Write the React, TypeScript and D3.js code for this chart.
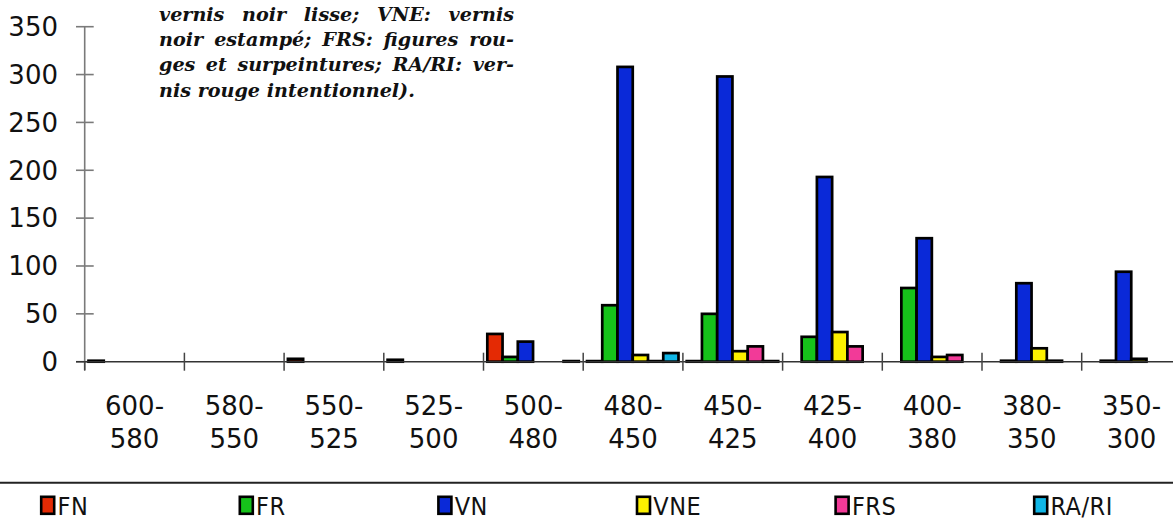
import React, { useLayoutEffect, useRef, useState } from "react";
import * as d3 from "d3";

const categories = ["600-580", "580-550", "550-525", "525-500", "500-480", "480-450", "450-425", "425-400", "400-380", "380-350", "350-300"];
const seriesNames = ["FN", "FR", "VN", "VNE", "FRS", "RA/RI"];
const seriesColors = ["#e42a04", "#16c21a", "#0a29d8", "#fcf000", "#f23a98", "#10b6e6"];
const FN = [1, null, 3, 2, 29, 0, 0, null, null, null, null];
const FR = [null, null, null, null, 5, 59, 50, 26, 77, 1, 1];
const VN = [null, null, null, null, 21, 308, 298, 193, 129, 82, 94];
const VNE = [null, null, null, null, null, 7, 11, 31, 5, 14, 3];
const FRS = [null, null, null, null, null, 0, 16, 16, 7, 1, null];
const RARI = [null, null, null, null, 0, 9, 0, null, null, null, null];
const seriesValues = [FN, FR, VN, VNE, FRS, RARI];
const yTicks = [0, 50, 100, 150, 200, 250, 300, 350];
const noteLines = [
  "(FN: figures noires; FR: figures rouges; VN:",
  "vernis noir lisse; VNE: vernis",
  "noir estampé; FRS: figures rou-",
  "ges et surpeintures; RA/RI: ver-",
  "nis rouge intentionnel).",
];

export default function App() {
  const axisX = 84.7;
  const catW = 99.7;
  const x0 = d3.scaleBand<string>().domain(categories).range([axisX, axisX + catW * categories.length]).padding(0);
  const x1 = d3.scaleBand<string>().domain(seriesNames).range([3.8, 3.8 + 91.5]).padding(0);
  const y = d3.scaleLinear().domain([0, 350]).range([361.7, 26.7]);
  const base = y(0);
  const font = "'DejaVu Sans', sans-serif";

  const noteLeft = 159;
  const noteWidth = 355;
  const lastWidth = 256;
  const baseSize = 18;
  const refs = useRef<(SVGTextElement | null)[]>([]);
  const [layout, setLayout] = useState<{ size: number; sp: number[] }>({ size: baseSize, sp: noteLines.map(() => 0) });
  const [pass, setPass] = useState(0);

  useLayoutEffect(() => {
    if (pass === 0) {
      const lastEl = refs.current[noteLines.length - 1];
      if (lastEl) {
        const w = lastEl.getComputedTextLength();
        const size = Math.min(20, Math.max(14, (baseSize * lastWidth) / w));
        setLayout({ size, sp: noteLines.map(() => 0) });
      }
      setPass(1);
    } else if (pass === 1) {
      const sp = noteLines.map((t, i) => {
        if (i === noteLines.length - 1) return 0;
        const el = refs.current[i];
        if (!el) return 0;
        const w = el.getComputedTextLength();
        const gaps = t.split(" ").length - 1;
        return gaps > 0 ? (noteWidth - w) / gaps : 0;
      });
      setLayout((l) => ({ size: l.size, sp }));
      setPass(2);
    }
  }, [pass]);

  return (
    <svg width={1173} height={520} style={{ position: "absolute", left: 0, top: 0, display: "block", background: "#fff" }}>
      {/* annotation */}
      <g fontFamily="'DejaVu Serif', serif" fontStyle="italic" fontWeight="bold" fontSize={layout.size} fill="#111">
        {noteLines.map((t, i) => (
          <text
            key={i}
            ref={(el) => {
              refs.current[i] = el;
            }}
            x={noteLeft}
            y={-4.8 + i * 25.4}
            style={{ wordSpacing: `${layout.sp[i]}px` }}
          >
            {t}
          </text>
        ))}
      </g>

      {/* y axis */}
      <line x1={axisX} x2={axisX} y1={y(350)} y2={370} stroke="#7a7a7a" strokeWidth={1.6} />
      {yTicks.map((v) => (
        <g key={v}>
          <line x1={76} x2={93.7} y1={y(v)} y2={y(v)} stroke="#7a7a7a" strokeWidth={1.6} />
          <text x={58} y={y(v)} dy="0.36em" textAnchor="end" fontFamily={font} fontSize={26} fill="#111">
            {v}
          </text>
        </g>
      ))}

      {/* bars */}
      {categories.map((c, ci) => (
        <g key={c} transform={`translate(${x0(c)},0)`}>
          {seriesNames.map((s, si) => {
            const v = seriesValues[si][ci];
            if (v === null || v === undefined) return null;
            const top = y(v);
            const h = Math.max(base - top, 0.6);
            return (
              <rect
                key={s}
                x={x1(s)}
                y={base - h}
                width={x1.bandwidth()}
                height={h}
                fill={seriesColors[si]}
                stroke="#000"
                strokeWidth={2.7}
              />
            );
          })}
        </g>
      ))}

      {/* x axis */}
      <line x1={76} x2={1173} y1={base} y2={base} stroke="#333" strokeWidth={1.6} />
      {categories.map((c, ci) => (
        <line
          key={"t" + c}
          x1={x0(c)}
          x2={x0(c)}
          y1={ci === 0 ? base : base - 9}
          y2={370.7}
          stroke="#444"
          strokeWidth={1.5}
        />
      ))}
      {categories.map((c) => {
        const [a, b] = c.split("-");
        const cx = (x0(c) as number) + x0.bandwidth() / 2;
        return (
          <text key={"l" + c} textAnchor="middle" fontFamily={font} fontSize={26} fill="#111">
            <tspan x={cx} y={414.5}>{a + "-"}</tspan>
            <tspan x={cx} y={447.5}>{b}</tspan>
          </text>
        );
      })}

      {/* legend */}
      <line x1={0} x2={1173} y1={482.7} y2={482.7} stroke="#222" strokeWidth={2} />
      {seriesNames.map((s, si) => {
        const lx = 40 + si * 198.6;
        return (
          <g key={"lg" + s}>
            <rect x={lx + 1.2} y={496.8} width={13} height={17} fill={seriesColors[si]} stroke="#000" strokeWidth={2.6} />
            <text
              x={lx + 17.5}
              y={514.5}
              fontFamily="'DejaVu Sans Condensed', 'DejaVu Sans', sans-serif"
              style={{ fontStretch: "condensed", letterSpacing: "0.5px" }}
              fontSize={25}
              fill="#111"
            >
              {s}
            </text>
          </g>
        );
      })}
    </svg>
  );
}
